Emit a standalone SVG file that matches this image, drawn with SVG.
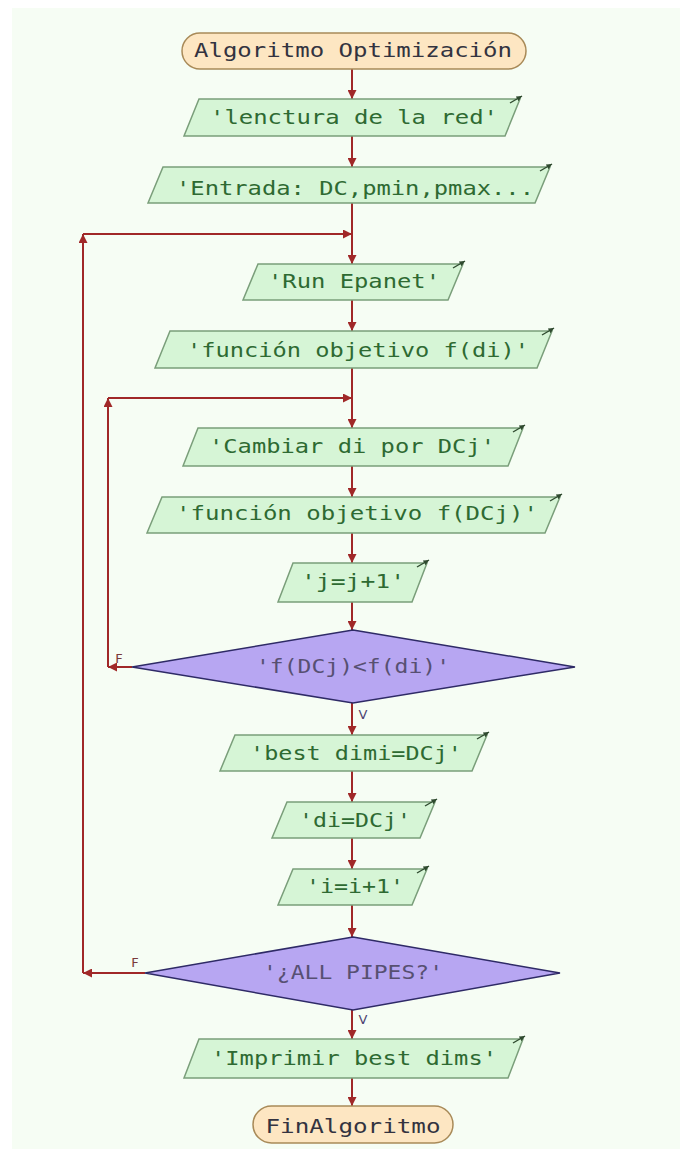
<svg xmlns="http://www.w3.org/2000/svg" width="691" height="1149" viewBox="0 0 691 1149">
<defs>
<marker id="ah" viewBox="0 0 10 10" refX="10" refY="5" markerWidth="4.5" markerHeight="4.5" orient="auto" markerUnits="strokeWidth">
<path d="M0,0 L10,5 L0,10 Z" fill="#a02828"/>
</marker>
<marker id="sm" viewBox="0 0 10 10" refX="10" refY="5" markerWidth="4" markerHeight="4" orient="auto" markerUnits="strokeWidth">
<path d="M0,0 L10,5 L0,10 Z" fill="#2f4a2f"/>
</marker>
<style>
.t{font-family:"DejaVu Sans Mono","Liberation Mono",monospace;font-size:19px;text-anchor:middle}
.term{fill:#fde6c2;stroke:#a88a58;stroke-width:1.5}
.io{fill:#d6f5d6;stroke:#7a9e7a;stroke-width:1.5}
.dec{fill:#b7a6f2;stroke:#2e2a66;stroke-width:1.5}
.tt{fill:#333340}
.it{fill:#2e6a32}
.dt{fill:#575072}
.c{stroke:#a02828;stroke-width:2;fill:none;marker-end:url(#ah)}
.mk{stroke:#2f4a2f;stroke-width:1.4;fill:none;marker-end:url(#sm)}
.lbl{font-family:"DejaVu Sans","Liberation Sans",sans-serif;font-size:13px;fill:#7a3a3a;text-anchor:middle}
.lv{font-family:"DejaVu Sans","Liberation Sans",sans-serif;font-size:13px;fill:#4c4470;text-anchor:middle}
</style>
</defs>
<rect x="0" y="0" width="691" height="1149" fill="#ffffff"/>
<rect x="12" y="8" width="668" height="1141" fill="#f6fdf4"/>

<g id="connectors">
<line class="c" x1="352" y1="69" x2="352" y2="99"/>
<line class="c" x1="352" y1="136" x2="352" y2="167"/>
<line class="c" x1="352" y1="203" x2="352" y2="264"/>
<line class="c" x1="352" y1="300" x2="352" y2="331"/>
<line class="c" x1="352" y1="368" x2="352" y2="428"/>
<line class="c" x1="352" y1="466" x2="352" y2="497"/>
<line class="c" x1="352" y1="533" x2="352" y2="563"/>
<line class="c" x1="352" y1="602" x2="352" y2="630"/>
<line class="c" x1="352" y1="703" x2="352" y2="735"/>
<line class="c" x1="352" y1="771" x2="352" y2="802"/>
<line class="c" x1="352" y1="838" x2="352" y2="869"/>
<line class="c" x1="352" y1="905" x2="352" y2="937"/>
<line class="c" x1="352" y1="1010" x2="352" y2="1039"/>
<line class="c" x1="352" y1="1078" x2="352" y2="1106"/>
<line class="c" x1="132" y1="667" x2="108" y2="667"/>
<line class="c" x1="108" y1="667" x2="108" y2="398"/>
<line class="c" x1="108" y1="398" x2="352" y2="398"/>
<line class="c" x1="145" y1="973" x2="83" y2="973"/>
<line class="c" x1="83" y1="973" x2="83" y2="234"/>
<line class="c" x1="83" y1="234" x2="352" y2="234"/>
<text class="lbl" x="119" y="663">F</text>
<text class="lbl" x="135" y="967">F</text>
<text class="lv" x="363" y="719">V</text>
<text class="lv" x="363" y="1024">V</text>
</g>

<g id="start">
<rect class="term" x="182" y="33" width="344" height="36" rx="18"/>
<text class="t tt" x="353" y="57" textLength="318" lengthAdjust="spacingAndGlyphs">Algoritmo Optimización</text>
</g>

<g id="leer_red">
<polygon class="io" points="199,99 520,99 505,136 184,136"/>
<line class="mk" x1="510" y1="103" x2="522" y2="96"/>
<text class="t it" x="354" y="124" textLength="288" lengthAdjust="spacingAndGlyphs">'lenctura de la red'</text>
</g>

<g id="entrada">
<polygon class="io" points="163,167 550,167 535,203 148,203"/>
<line class="mk" x1="540" y1="171" x2="552" y2="164"/>
<text class="t it" x="355" y="195" textLength="358" lengthAdjust="spacingAndGlyphs">'Entrada: DC,pmin,pmax...</text>
</g>

<g id="run_epanet">
<polygon class="io" points="258,264 463,264 448,300 243,300"/>
<line class="mk" x1="453" y1="268" x2="465" y2="261"/>
<text class="t it" x="354" y="288" textLength="172" lengthAdjust="spacingAndGlyphs">'Run Epanet'</text>
</g>

<g id="fobj_di">
<polygon class="io" points="170,331 552,331 537,368 155,368"/>
<line class="mk" x1="542" y1="335" x2="554" y2="328"/>
<text class="t it" x="358" y="357" textLength="342" lengthAdjust="spacingAndGlyphs">'función objetivo f(di)'</text>
</g>

<g id="cambiar">
<polygon class="io" points="198,428 523,428 508,466 183,466"/>
<line class="mk" x1="513" y1="432" x2="525" y2="425"/>
<text class="t it" x="352" y="453" textLength="286" lengthAdjust="spacingAndGlyphs">'Cambiar di por DCj'</text>
</g>

<g id="fobj_dcj">
<polygon class="io" points="162,497 560,497 545,533 147,533"/>
<line class="mk" x1="550" y1="501" x2="562" y2="494"/>
<text class="t it" x="357" y="520" textLength="362" lengthAdjust="spacingAndGlyphs">'función objetivo f(DCj)'</text>
</g>

<g id="j_inc">
<polygon class="io" points="293,563 427,563 412,602 278,602"/>
<line class="mk" x1="417" y1="567" x2="429" y2="560"/>
<text class="t it" x="353" y="588" textLength="104" lengthAdjust="spacingAndGlyphs">'j=j+1'</text>
</g>

<g id="cond_dcj">
<polygon class="dec" points="353,630 575,667 353,703 132,667"/>
<text class="t dt" x="353" y="673" textLength="194" lengthAdjust="spacingAndGlyphs">'f(DCj)&lt;f(di)'</text>
</g>

<g id="best_dimi">
<polygon class="io" points="235,735 487,735 472,771 220,771"/>
<line class="mk" x1="477" y1="739" x2="489" y2="732"/>
<text class="t it" x="356" y="760" textLength="212" lengthAdjust="spacingAndGlyphs">'best dimi=DCj'</text>
</g>

<g id="di_set">
<polygon class="io" points="287,802 435,802 420,838 272,838"/>
<line class="mk" x1="425" y1="806" x2="437" y2="799"/>
<text class="t it" x="355" y="827" textLength="112" lengthAdjust="spacingAndGlyphs">'di=DCj'</text>
</g>

<g id="i_inc">
<polygon class="io" points="293,869 427,869 412,905 278,905"/>
<line class="mk" x1="417" y1="873" x2="429" y2="866"/>
<text class="t it" x="355" y="893" textLength="98" lengthAdjust="spacingAndGlyphs">'i=i+1'</text>
</g>

<g id="cond_pipes">
<polygon class="dec" points="353,937 560,973 353,1010 145,973"/>
<text class="t dt" x="353" y="979" textLength="180" lengthAdjust="spacingAndGlyphs">'¿ALL PIPES?'</text>
</g>

<g id="imprimir">
<polygon class="io" points="199,1039 523,1039 508,1078 184,1078"/>
<line class="mk" x1="513" y1="1043" x2="525" y2="1036"/>
<text class="t it" x="354" y="1065" textLength="286" lengthAdjust="spacingAndGlyphs">'Imprimir best dims'</text>
</g>

<g id="end">
<rect class="term" x="253" y="1106" width="200" height="37" rx="18.5"/>
<text class="t tt" x="353" y="1133" textLength="175" lengthAdjust="spacingAndGlyphs">FinAlgoritmo</text>
</g>
</svg>
